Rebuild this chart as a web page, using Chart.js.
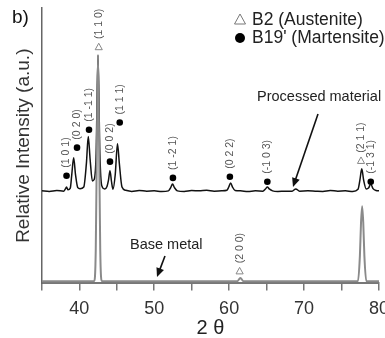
<!DOCTYPE html>
<html>
<head>
<meta charset="utf-8">
<script src="https://cdn.jsdelivr.net/npm/chart.js@4.4.0/dist/chart.umd.min.js"></script>
<style>
  body { margin: 0; background: #fff; }
  canvas { display: block; }
</style>
</head>
<body>
<canvas id="xrd" width="385" height="338"></canvas>
<script>
// processed material trace (2 theta, intensity a.u.)
const procX = [35, 36, 37, 37.9, 38.15, 38.3, 38.5, 38.8, 39.0, 39.25, 39.5, 39.8, 40.1, 40.6, 40.95, 41.2, 41.45, 41.75, 42.0, 42.25, 42.5, 42.75, 43.0, 43.4, 43.7, 43.9, 44.1, 44.3, 44.5, 44.8, 45.1, 45.35, 45.7, 46.2, 47, 48, 49, 50, 51, 51.9, 52.2, 52.45, 52.7, 53.1, 54, 55, 56, 57, 58, 59, 59.7, 59.95, 60.2, 60.45, 60.8, 61.5, 62.5, 63.5, 64.5, 64.85, 65.1, 65.35, 65.8, 66.5, 67.5, 68.4, 68.9, 69.4, 70.5, 71.5, 72.5, 73.5, 74.5, 75.5, 76.5, 77.2, 77.45, 77.7, 77.95, 78.3, 78.6, 78.9, 79.2, 79.6, 80];
const procY = [33.6, 33.4, 33.7, 33.5, 34.3, 35.0, 34.0, 34.6, 39.5, 45.6, 39.5, 34.8, 34.4, 35.0, 43.5, 53.3, 45.0, 37.2, 37.8, 47.0, 82.8, 47.0, 35.5, 34.3, 35.2, 37.5, 40.9, 37.0, 34.2, 39.5, 50.7, 43.5, 35.0, 33.8, 33.4, 33.7, 33.5, 33.6, 33.4, 33.6, 34.8, 36.1, 34.8, 33.6, 33.4, 33.7, 33.6, 33.8, 33.5, 33.6, 33.8, 35.0, 36.5, 35.0, 33.7, 33.6, 33.4, 33.6, 33.5, 34.3, 35.0, 34.3, 33.6, 33.4, 33.5, 33.5, 34.3, 33.5, 33.6, 33.5, 33.4, 33.7, 33.5, 33.6, 33.4, 34.2, 37.5, 41.6, 37.5, 34.3, 34.6, 36.1, 34.4, 33.7, 33.6];

// base metal trace
const baseX = [35, 40, 42.0, 42.2, 42.35, 42.5, 42.65, 42.8, 43.0, 50, 61.1, 61.5, 61.9, 70, 77.2, 77.45, 77.6, 77.75, 77.9, 78.05, 78.3, 80];
const baseY = [0.8, 0.8, 0.9, 12, 50, 83, 50, 12, 0.9, 0.8, 0.8, 2.0, 0.8, 0.8, 0.9, 10, 22, 28, 22, 10, 0.9, 0.8];

// peak markers: 'm' = B19' (martensite, dot), 'a' = B2 (austenite, triangle)
const peakX = [38.3, 39.7, 41.3, 42.6, 44.1, 45.4, 52.5, 60.1, 65.1, 77.6, 78.9, 61.4];
const peakY = [39.1, 49.3, 55.8, 85.8, 44.2, 58.4, 38.3, 38.7, 36.9, 44.5, 36.9, 4.4];
const peakLabels = ['(1 0 1)', '(0 2 0)', '(1 -1 1)', '(1 1 0)', '(0 0 2)', '(1 1 1)', '(1 -2 1)', '(0 2 2)', '(-1 0 3)', '(2 1 1)', '(-1 3 1)', '(2 0 0)'];
const peakKind = ['m', 'm', 'm', 'a', 'm', 'm', 'm', 'm', 'm', 'a', 'm', 'a'];

const xTicks = [35, 40, 45, 50, 55, 60, 65, 70, 75, 80];

const FONT = "'Liberation Sans', Arial, sans-serif";

function drawTriangle(c, x, y, s, color) {
    c.beginPath();
    c.moveTo(x, y - s * 0.6);
    c.lineTo(x + s * 0.55, y + s * 0.4);
    c.lineTo(x - s * 0.55, y + s * 0.4);
    c.closePath();
    c.strokeStyle = color;
    c.lineWidth = 1;
    c.stroke();
}

function drawArrow(c, x1, y1, x2, y2) {
    const a = Math.atan2(y2 - y1, x2 - x1);
    c.beginPath();
    c.moveTo(x1, y1);
    c.lineTo(x2 - 6 * Math.cos(a), y2 - 6 * Math.sin(a));
    c.strokeStyle = '#111';
    c.lineWidth = 1.6;
    c.stroke();
    c.beginPath();
    c.moveTo(x2, y2);
    c.lineTo(x2 - 9 * Math.cos(a) + 4 * Math.sin(a), y2 - 9 * Math.sin(a) - 4 * Math.cos(a));
    c.lineTo(x2 - 9 * Math.cos(a) - 4 * Math.sin(a), y2 - 9 * Math.sin(a) + 4 * Math.cos(a));
    c.closePath();
    c.fillStyle = '#111';
    c.fill();
}

const extras = {
    id: 'extras',
    afterDatasetsDraw(chart) {
        const c = chart.ctx;
        const xs = chart.scales.x, ys = chart.scales.y;
        c.save();

        // peak markers and rotated hkl labels
        peakX.forEach((px, i) => {
            const x = xs.getPixelForValue(px);
            const y = ys.getPixelForValue(peakY[i]);
            if (peakKind[i] === 'm') {
                c.beginPath();
                c.arc(x, y, 3.3, 0, Math.PI * 2);
                c.fillStyle = '#000';
                c.fill();
            } else {
                drawTriangle(c, x, y, 6.5, '#888');
            }
            c.save();
            c.translate(x, y - 8);
            c.rotate(-Math.PI / 2);
            c.font = '10.5px ' + FONT;
            c.fillStyle = '#555';
            c.textAlign = 'left';
            c.textBaseline = 'middle';
            c.fillText(peakLabels[i], 0, 0);
            c.restore();
        });

        // legend
        drawTriangle(c, 240, 20, 10, '#777');
        c.beginPath();
        c.arc(240, 38, 5, 0, Math.PI * 2);
        c.fillStyle = '#000';
        c.fill();
        c.font = '17.5px ' + FONT;
        c.fillStyle = '#222';
        c.textAlign = 'left';
        c.textBaseline = 'middle';
        c.fillText('B2 (Austenite)', 252, 20);
        c.fillText("B19' (Martensite)", 252, 38);

        // annotations
        c.font = '14.5px ' + FONT;
        c.fillText('Processed material', 257, 97);
        c.fillText('Base metal', 130, 245);
        drawArrow(c, 318, 114, 293, 187);
        drawArrow(c, 165, 256, 157, 277);

        c.font = '19px ' + FONT;
        c.fillStyle = '#111';
        c.fillText('b)', 12, 18);
        c.restore();
    }
};

new Chart(document.getElementById('xrd'), {
    type: 'line',
    data: {
        datasets: [
            {
                label: 'Base metal',
                data: baseX.map((x, i) => ({ x: x, y: baseY[i] })),
                borderColor: '#8a8a8a',
                borderWidth: 2,
                pointRadius: 0,
                cubicInterpolationMode: 'monotone'
            },
            {
                label: 'Processed material',
                data: procX.map((x, i) => ({ x: x, y: procY[i] })),
                borderColor: '#111',
                borderWidth: 1.5,
                pointRadius: 0,
                cubicInterpolationMode: 'monotone'
            }
        ]
    },
    options: {
        responsive: false,
        animation: false,
        layout: { padding: { top: 8, right: 6, left: 8, bottom: 0 } },
        plugins: { legend: { display: false }, tooltip: { enabled: false } },
        scales: {
            x: {
                type: 'linear',
                min: 35,
                max: 80,
                afterBuildTicks: (axis) => { axis.ticks = xTicks.map(v => ({ value: v })); },
                afterFit: (axis) => { axis.paddingRight = 0; },
                ticks: {
                    autoSkip: false,
                    maxRotation: 0,
                    color: '#333',
                    font: { size: 18, family: FONT },
                    padding: 8,
                    callback: (v) => (v % 10 === 0 ? v : '')
                },
                grid: { drawOnChartArea: false, tickLength: 7, color: '#777', lineWidth: 1.5 },
                border: { color: '#777', width: 2 },
                title: { display: true, text: '2 θ', color: '#222', font: { size: 20, family: FONT, lineHeight: 1 }, padding: { top: -10, bottom: 0 } }
            },
            y: {
                min: 0,
                max: 100,
                ticks: { display: false },
                grid: { display: false, drawTicks: false },
                border: { color: '#666', width: 1.5 },
                title: { display: true, text: 'Relative Intensity (a.u.)', color: '#333', font: { size: 19, family: FONT }, padding: { top: 4, bottom: 7 } }
            }
        }
    },
    plugins: [extras]
});
</script>
</body>
</html>
